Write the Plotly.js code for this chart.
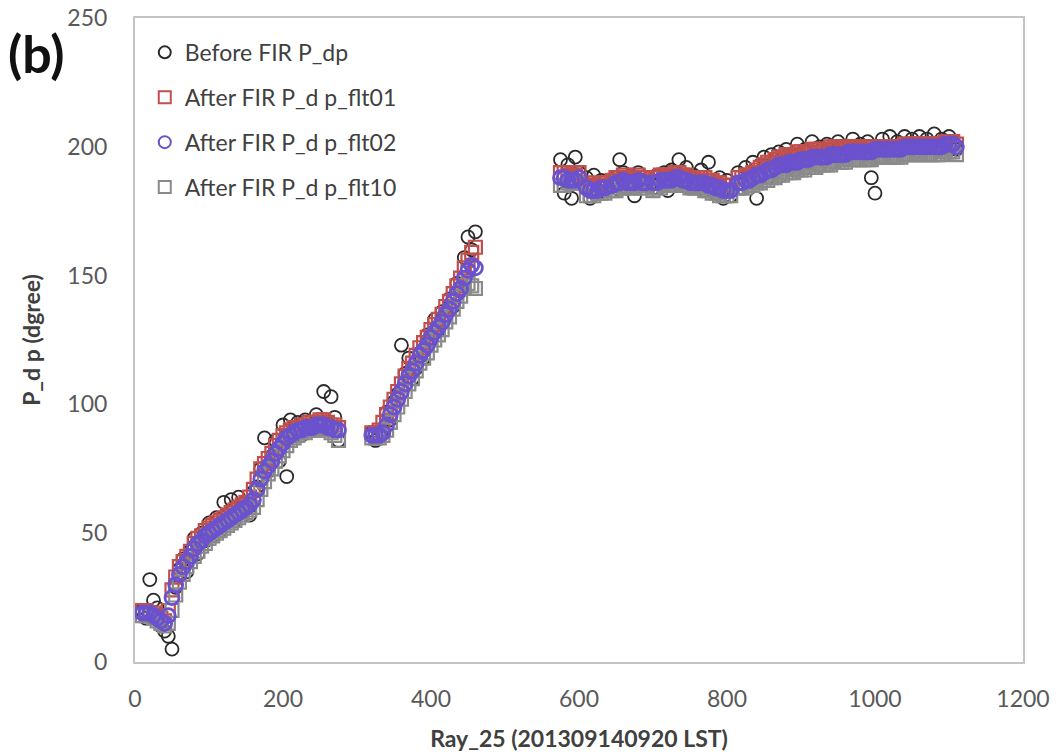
<!DOCTYPE html>
<html>
<head>
<meta charset="utf-8">
<script src="https://cdn.plot.ly/plotly-3.0.1.min.js"></script>
<style>
  html, body { margin: 0; padding: 0; background: #ffffff; }
  #chart { width: 1058px; height: 755px; }
</style>
</head>
<body>
<div id="chart"></div>
<script>
// Ray index (x values)
const rays = [
  10,15,20,25,30,35,40,45,50,55,60,65,70,75,80,85,90,95,100,105,110,115,120,125,130,135,140,145,150,155,160,165,170,175,180,185,190,195,200,205,210,215,220,225,230,235,240,245,250,255,260,265,270,275,
  320,325,330,335,340,345,350,355,360,365,370,375,380,385,390,395,400,405,410,415,420,425,430,435,440,445,450,455,460,
  575,580,585,590,595,600,
  610,615,620,625,630,635,
  645,650,655,660,665,670,675,680,685,690,
  700,705,710,715,720,725,730,735,740,745,750,755,760,765,770,775,780,785,790,795,800,805,
  815,820,825,830,835,840,845,850,855,860,865,870,875,880,885,890,895,900,905,910,915,920,925,930,935,940,945,950,955,960,965,970,975,980,985,990,995,1000,1005,1010,1015,1020,1025,1030,1035,1040,1045,1050,1055,1060,1065,1070,1075,1080,1085,1090,1095,1100,1105,1110
];

// Before FIR P_dp
const beforeDp = [
  20,17,32,24,21,14,12,10,5,29, 36,40,35,43,48,42,50,47,54,49, 56,51,62,57,63,55,64,58,62,57, 66,68,75,87,74,80,86,78,92,72, 94,91,93,88,94,90,92,96,91,105, 93,103,95,86,
  89,86,88,90,97,94,101,104,123,112, 118,110,114,120,118,127,125,133,129,136, 134,141,138,147,144,157,165,160,167,
  195,182,193,180,196,190,
  188,180,189,182,187,184,
  183,188,195,190,184,189,181,190,187,185,
  184,189,186,190,183,191,187,195,186,192,184,189,185,191,183,194,186,182,188,180,187,181,
  190,184,192,187,194,180,193,196,188,197, 191,198,194,199,192,197,201,196,199,194, 202,197,200,195,201,199,197,202,196,200, 198,203,199,201,197,202,188,182,200,203, 198,204,200,202,199,204,201,203,198,204, 200,203,201,205,199,203,200,204,202,199
];

// After FIR P_dp_flt01
const flt01 = [
  20,20,19,19,18,17,16,20,28,33, 37,39,41,43,46,48,49,51,52,53, 54,55,56,57,58,59,60,61,62,64, 67,71,75,77,79,81,84,86,88,89, 90,91,91,92,92,93,93,93,94,94, 93,92,92,91,
  89,89,90,93,96,99,102,105,108,111, 114,116,119,122,124,126,129,131,133,135, 138,140,143,146,149,153,156,159,161,
  190,190,189,189,189,190,
  186,185,185,185,186,186,
  187,188,188,189,188,188,188,189,188,188,
  188,188,189,189,189,189,190,190,189,189,188,188,188,188,188,187,187,186,186,185,185,185,
  188,188,189,189,190,191,192,193,194,194, 195,196,196,197,197,197,198,198,198,198, 199,199,199,199,199,200,200,200,200,200, 200,200,200,200,200,200,200,200,200,200, 200,200,200,200,200,201,201,201,201,201, 201,201,201,201,201,201,202,202,202,201
];

// After FIR P_dp_flt02
const flt02 = [
  19,19,19,18,17,16,15,18,25,30, 34,37,39,41,44,46,47,49,50,51, 52,53,54,55,56,57,58,59,60,61, 63,67,71,74,76,78,81,83,85,87, 88,89,90,90,91,91,91,92,92,92, 91,91,90,90,
  88,88,88,89,92,96,99,102,105,108, 111,113,116,119,121,123,126,128,130,132, 135,137,140,143,145,149,152,154,153,
  188,188,187,187,187,188,
  184,183,183,183,184,184,
  185,186,186,187,186,186,186,187,186,186,
  186,186,187,187,187,187,188,188,187,187,186,186,186,186,186,185,185,184,184,183,183,183,
  186,186,187,187,188,189,189,190,191,191, 192,193,193,193,194,194,194,195,195,195, 196,196,196,196,196,197,197,197,197,197, 198,198,198,198,198,198,198,199,199,199, 199,199,199,199,199,200,200,200,200,200, 200,200,200,200,200,200,201,201,201,200
];

// After FIR P_dp_flt10
const flt10 = [
  18,18,18,17,16,15,14,15,20,26, 31,34,37,39,41,43,45,46,48,49, 50,51,52,53,54,55,56,57,58,59, 60,63,67,70,73,75,78,80,82,84, 86,87,88,89,89,90,90,90,91,91, 90,89,88,86,
  87,87,87,88,90,93,96,99,102,105, 108,110,113,116,118,120,123,125,127,129, 132,134,137,140,142,145,147,146,145,
  185,185,186,186,186,186,
  181,181,181,182,182,182,
  183,183,184,184,184,184,184,185,184,184,
  183,184,184,185,185,185,185,186,185,185,184,184,184,184,183,183,182,182,181,181,181,181,
  184,184,184,185,185,186,186,187,187,188, 188,189,189,190,190,190,191,191,191,192, 192,192,193,193,193,193,194,194,194,194, 195,195,195,195,195,195,195,196,196,196, 196,196,196,196,196,197,197,197,197,197, 197,197,197,197,197,197,198,198,198,197
];

const seriesNames = ['Before FIR P_dp', 'After FIR P_d p_flt01', 'After FIR P_d p_flt02', 'After FIR P_d p_flt10'];

const FONT = 'Lato, "Liberation Sans", sans-serif';

function mk(y, name, symbol, color, rank, size, width) {
  return {
    type: 'scatter', mode: 'markers', x: rays, y: y, name: name,
    legendgroup: name, legendrank: rank,
    marker: { symbol: symbol, size: size, color: color, line: { color: color, width: width } },
    hoverinfo: 'x+y+name'
  };
}

const traces = [
  mk(beforeDp, seriesNames[0], 'circle-open', '#2a2a2a', 1, 13, 1.8),
  mk(flt01, seriesNames[1], 'square-open', '#C0504D', 2, 13, 2.2),
  mk(flt10, seriesNames[3], 'square-open', '#8a8a8a', 4, 13, 2.2),
  mk(flt02, seriesNames[2], 'circle-open', '#6A52CF', 3, 14, 2.8)
];

const layout = {
  width: 1058, height: 755,
  margin: { l: 135, r: 35, t: 18, b: 93 },
  paper_bgcolor: '#ffffff', plot_bgcolor: '#ffffff',
  font: { family: FONT, size: 23, color: '#595959' },
  showlegend: true,
  legend: {
    x: 0.011, y: 0.980, xanchor: 'left', yanchor: 'top',
    bgcolor: 'rgba(0,0,0,0)', borderwidth: 0,
    font: { family: FONT, size: 23, color: '#404040' },
    traceorder: 'grouped', tracegroupgap: 12, itemsizing: 'constant'
  },
  xaxis: {
    range: [0, 1200], dtick: 200, tick0: 0,
    showgrid: false, zeroline: false,
    showline: true, mirror: true, linecolor: '#c4c4c4', linewidth: 2,
    ticks: '', ticklabelstandoff: 15,
    tickfont: { family: FONT, size: 23, color: '#595959' },
    title: { text: '<b>Ray_25 (201309140920 LST)</b>', standoff: 20,
             font: { family: FONT, size: 23, color: '#404040' } }
  },
  yaxis: {
    range: [0, 250], dtick: 50, tick0: 0,
    showgrid: false, zeroline: false,
    showline: true, mirror: true, linecolor: '#c4c4c4', linewidth: 2,
    ticks: '', ticklabelstandoff: 21,
    tickfont: { family: FONT, size: 23, color: '#595959' },
    title: { text: '<b>P_d p (dgree)</b>', standoff: 20,
             font: { family: FONT, size: 23, color: '#404040' } }
  },
  annotations: [{
    text: '<b>(b)</b>', xref: 'paper', yref: 'paper',
    x: -0.145, y: 0.946, xanchor: 'left', yanchor: 'middle',
    showarrow: false, font: { family: FONT, size: 52, color: '#111111' }
  }]
};

Plotly.newPlot('chart', traces, layout, { displayModeBar: false, responsive: false });
</script>
</body>
</html>
